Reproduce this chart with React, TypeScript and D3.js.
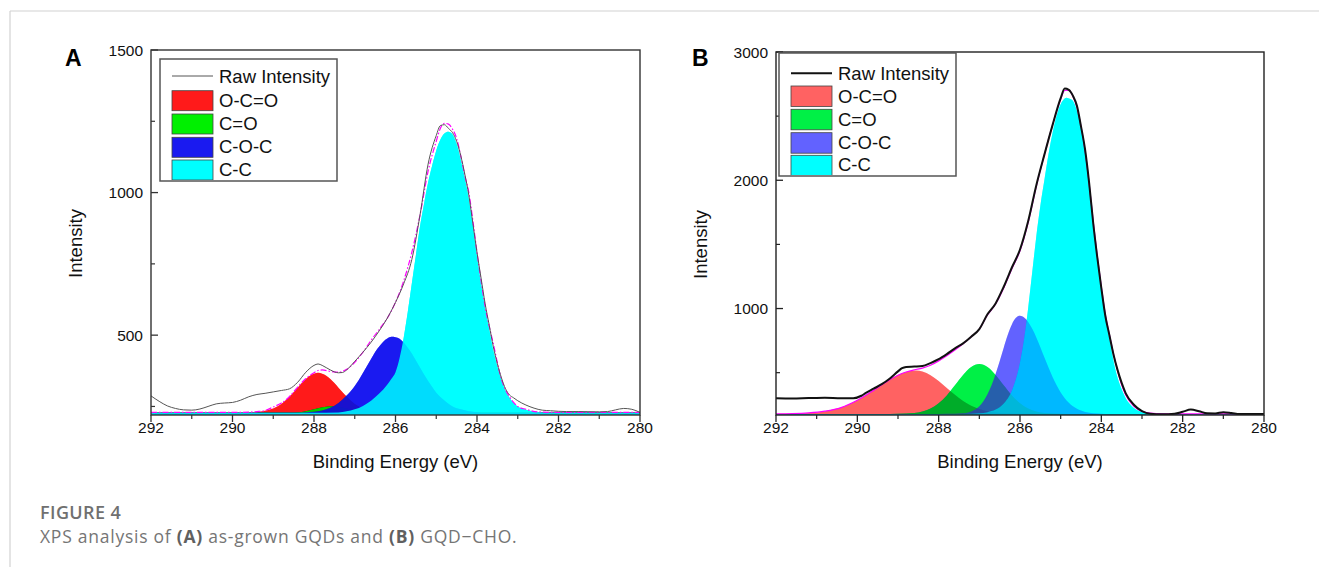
import React from 'react'
import * as d3 from 'd3'

type Pt = [number, number]

// axis ticks
const X_MAJOR = [292, 290, 288, 286, 284, 282, 280]
const X_MINOR = [291, 289, 287, 285, 283, 281]
const A_Y_MAJOR = [500, 1000, 1500]
const A_Y_MINOR = [250, 750, 1250]
const B_Y_MAJOR = [1000, 2000, 3000]
const B_Y_MINOR = [500, 1500, 2500]
const LEGEND = ['Raw Intensity', 'O-C=O', 'C=O', 'C-O-C', 'C-C']

// panel A: as-grown GQDs  [binding energy, intensity]
const rawA: Pt[] = [
  [292, 287], [291.8, 268], [291.6, 252], [291.4, 243], [291.2, 238], [291.0, 237], [290.8, 241],
  [290.6, 250], [290.4, 259], [290.2, 262], [290.0, 264], [289.8, 272], [289.6, 284], [289.4, 292],
  [289.2, 296], [289.0, 301], [288.8, 306], [288.6, 312], [288.4, 335], [288.2, 370], [288.0, 394],
  [287.9, 399], [287.8, 394], [287.6, 378], [287.4, 368], [287.3, 369], [287.2, 378], [287.0, 408],
  [286.8, 440], [286.6, 475], [286.4, 515], [286.2, 560], [286.0, 615], [285.8, 680], [285.6, 765],
  [285.4, 920], [285.2, 1100], [285.0, 1200], [284.9, 1235], [284.8, 1238], [284.7, 1225],
  [284.6, 1210], [284.5, 1180], [284.4, 1130], [284.3, 1065], [284.2, 990], [284.1, 890],
  [284.0, 790], [283.9, 700], [283.8, 610], [283.7, 535], [283.6, 460], [283.5, 400], [283.4, 350],
  [283.3, 312], [283.2, 290], [283.1, 280], [283.0, 270], [282.8, 255], [282.6, 244], [282.4, 237],
  [282.2, 235], [282.0, 233], [281.8, 232], [281.5, 232], [281.0, 231], [280.8, 232], [280.6, 238],
  [280.4, 243], [280.2, 240], [280.0, 229],
]
const fitA: Pt[] = [
  [292, 229], [291, 229], [290, 229], [289.6, 230], [289.4, 232], [289.2, 236], [289.0, 248],
  [288.8, 262], [288.6, 285], [288.4, 318], [288.2, 348], [288.0, 368], [287.9, 376], [287.8, 378],
  [287.6, 373], [287.4, 370], [287.2, 380], [287.0, 405], [286.8, 440], [286.6, 482], [286.4, 520],
  [286.2, 560], [286.0, 615], [285.8, 690], [285.6, 790], [285.4, 920], [285.2, 1075], [285.0, 1180],
  [284.9, 1225], [284.8, 1243], [284.7, 1240], [284.6, 1222], [284.5, 1190], [284.4, 1130],
  [284.3, 1060], [284.2, 1000], [284.1, 900], [284.0, 790], [283.9, 690], [283.8, 600], [283.6, 470],
  [283.4, 345], [283.3, 308], [283.2, 283], [283.0, 250], [282.8, 240], [282.5, 231], [282.0, 229],
  [280, 229],
]
const ocoA: Pt[] = [
  [292, 228], [289.8, 228], [289.5, 229], [289.3, 232], [289.1, 238], [288.9, 250], [288.8, 259],
  [288.7, 271], [288.6, 285], [288.5, 300], [288.4, 316], [288.3, 332], [288.2, 346], [288.1, 358],
  [288.0, 365], [287.9, 368], [287.8, 365], [287.7, 358], [287.6, 346], [287.5, 332], [287.4, 316],
  [287.3, 300], [287.2, 285], [287.1, 271], [287.0, 259], [286.9, 250], [286.7, 238], [286.5, 232],
  [286.3, 229], [286.0, 228], [280, 228],
]
const coA: Pt[] = [
  [292, 228], [288.6, 228], [288.4, 229], [288.2, 233], [288.0, 240], [287.8, 247], [287.6, 251],
  [287.4, 249], [287.2, 243], [287.0, 236], [286.8, 231], [286.6, 229], [286.4, 228], [280, 228],
]
const cocA: Pt[] = [
  [292, 228], [288.4, 228], [288.2, 229], [288.0, 231], [287.8, 236], [287.6, 245], [287.4, 262],
  [287.2, 288], [287.0, 322], [286.9, 343], [286.8, 367], [286.7, 392], [286.6, 416], [286.5, 441],
  [286.4, 460], [286.3, 477], [286.2, 488], [286.1, 494], [286.0, 493], [285.9, 487], [285.8, 474],
  [285.7, 456], [285.6, 436], [285.5, 411], [285.4, 387], [285.3, 362], [285.2, 339], [285.1, 318],
  [285.0, 298], [284.8, 271], [284.6, 250], [284.4, 240], [284.2, 233], [284.0, 230], [283.8, 228],
  [280, 228],
]
const ccA: Pt[] = [
  [292, 228], [288, 228], [287.4, 229], [287.2, 233], [287.0, 240], [286.8, 252], [286.6, 270],
  [286.4, 295], [286.2, 327], [286.1, 347], [286.0, 370], [285.9, 420], [285.8, 490], [285.7, 580],
  [285.6, 680], [285.5, 780], [285.4, 880], [285.3, 960], [285.2, 1035], [285.1, 1095], [285.0, 1148],
  [284.9, 1185], [284.8, 1207], [284.7, 1213], [284.6, 1204], [284.5, 1170], [284.4, 1115],
  [284.3, 1050], [284.2, 975], [284.1, 880], [284.0, 775], [283.9, 680], [283.8, 595], [283.7, 520],
  [283.6, 445], [283.5, 390], [283.4, 343], [283.3, 305], [283.2, 280], [283.1, 262], [283.0, 250],
  [282.8, 238], [282.6, 232], [282.4, 229], [282.2, 228], [280, 228],
]

// panel B: GQD-CHO
const rawB: Pt[] = [
  [292, 300], [291.6, 298], [291.2, 302], [290.8, 305], [290.4, 300], [290.1, 300], [289.9, 320],
  [289.8, 340], [289.6, 375], [289.4, 410], [289.2, 455], [289.0, 510], [288.9, 535], [288.8, 545],
  [288.6, 548], [288.4, 552], [288.2, 575], [288.0, 605], [287.8, 645], [287.6, 690], [287.4, 728],
  [287.2, 780], [287.0, 840], [286.8, 955], [286.6, 1040], [286.4, 1170], [286.2, 1320], [286.0, 1460],
  [285.8, 1680], [285.6, 1960], [285.4, 2200], [285.2, 2430], [285.0, 2640], [284.9, 2715],
  [284.8, 2705], [284.7, 2660], [284.6, 2580], [284.5, 2420], [284.4, 2240], [284.3, 1980],
  [284.2, 1667], [284.1, 1400], [284.0, 1160], [283.9, 940], [283.8, 790], [283.7, 640], [283.6, 520],
  [283.5, 420], [283.4, 339], [283.2, 250], [283.0, 200], [282.8, 180], [282.5, 176], [282.2, 180],
  [282.0, 195], [281.8, 212], [281.6, 200], [281.4, 183], [281.2, 182], [281.0, 192], [280.8, 186],
  [280.6, 178], [280, 178],
]
const fitB: Pt[] = [
  [292, 178], [291.6, 180], [291.2, 186], [290.8, 200], [290.4, 228], [290.0, 285], [289.6, 362],
  [289.2, 445], [289.0, 480], [288.8, 505], [288.6, 522], [288.4, 535], [288.2, 558], [288.0, 592],
  [287.8, 632], [287.6, 676], [287.4, 725], [287.2, 780], [287.0, 840], [286.8, 950], [286.6, 1035],
  [286.4, 1160], [286.2, 1310], [286.0, 1450], [285.8, 1670], [285.6, 1950], [285.4, 2200],
  [285.2, 2430], [285.0, 2630], [284.9, 2700], [284.8, 2702], [284.7, 2655], [284.6, 2570],
  [284.5, 2420], [284.4, 2230], [284.3, 1975], [284.2, 1680], [284.1, 1410], [284.0, 1170],
  [283.9, 950], [283.8, 795], [283.7, 645], [283.6, 515], [283.5, 405], [283.4, 325], [283.2, 238],
  [283.0, 198], [282.8, 184], [282.5, 179], [280, 178],
]
const ocoB: Pt[] = [
  [292, 178], [291.8, 179], [291.5, 181], [291.2, 185], [290.9, 194], [290.7, 205], [290.5, 220],
  [290.3, 241], [290.1, 269], [289.9, 303], [289.7, 343], [289.5, 386], [289.3, 428], [289.1, 466],
  [288.9, 496], [288.7, 513], [288.56, 517], [288.4, 509], [288.2, 480], [288.0, 435], [287.8, 381],
  [287.6, 328], [287.4, 280], [287.2, 243], [287.0, 217], [286.8, 200], [286.6, 189], [286.4, 183],
  [286.0, 179], [285.6, 178], [280, 178],
]
const coB: Pt[] = [
  [292, 178], [289.2, 178], [288.8, 181], [288.6, 185], [288.4, 197], [288.2, 220], [288.0, 262],
  [287.8, 323], [287.6, 402], [287.4, 482], [287.2, 544], [287.0, 567], [286.8, 544], [286.6, 482],
  [286.4, 402], [286.2, 323], [286.0, 262], [285.8, 220], [285.6, 197], [285.4, 185], [285.2, 181],
  [284.8, 178], [280, 178],
]
const cocB: Pt[] = [
  [292, 178], [288, 178], [287.6, 179], [287.4, 183], [287.2, 198], [287.0, 239], [286.9, 277],
  [286.8, 331], [286.7, 402], [286.6, 490], [286.5, 590], [286.4, 695], [286.3, 795], [286.2, 876],
  [286.1, 928], [286.0, 944], [285.9, 930], [285.8, 896], [285.7, 842], [285.6, 775], [285.5, 699],
  [285.4, 618], [285.3, 540], [285.2, 467], [285.0, 346], [284.8, 265], [284.6, 218], [284.4, 194],
  [284.2, 184], [284.0, 180], [283.8, 178], [280, 178],
]
const ccB: Pt[] = [
  [292, 178], [287.4, 178], [287.0, 183], [286.8, 192], [286.6, 212], [286.4, 260], [286.2, 360],
  [286.1, 450], [286.0, 580], [285.9, 760], [285.8, 1000], [285.7, 1280], [285.6, 1560], [285.5, 1800],
  [285.4, 2002], [285.3, 2200], [285.2, 2369], [285.1, 2503], [285.0, 2593], [284.9, 2638],
  [284.86, 2643], [284.8, 2638], [284.7, 2620], [284.6, 2540], [284.5, 2420], [284.4, 2220],
  [284.3, 1950], [284.2, 1650], [284.1, 1390], [284.0, 1150], [283.9, 930], [283.8, 760], [283.7, 590],
  [283.6, 460], [283.5, 370], [283.4, 300], [283.3, 255], [283.2, 225], [283.1, 205], [283.0, 193],
  [282.8, 183], [282.6, 179], [282.4, 178], [280, 178],
]

const FONT = '"Liberation Sans", Arial, sans-serif'

type PanelCfg = {
  id: string
  letter: string
  letterX: number
  box: { l: number; r: number; t: number; b: number }
  yDomain: [number, number]
  yMajor: number[]
  yMinor: number[]
  raw: Pt[]
  fit: Pt[]
  comps: Pt[][]
  fillBase: string[]
  swatch: string[]
  normalAlpha: number
  rawStyle: { stroke: string; width: number }
  fitDash: string
  frame: string
  legend: { l: number; t: number; r: number; b: number; lineY: number; rows: number[]; sw: number[]; swH: number }
  yTitleX: number
}

function Panel({ cfg }: { cfg: PanelCfg }) {
  const { l, r, t, b } = cfg.box
  const x = d3.scaleLinear().domain([292, 280]).range([l, r])
  const y = d3.scaleLinear().domain(cfg.yDomain).range([b, t])
  const ord = (s: Pt[]) => [...s].sort((p, q) => q[0] - p[0])
  const area = d3.area<Pt>().x((d) => x(d[0])).y0(b).y1((d) => y(d[1])).curve(d3.curveMonotoneX)
  const line = d3.line<Pt>().x((d) => x(d[0])).y((d) => y(d[1])).curve(d3.curveMonotoneX)
  const lg = cfg.legend
  const clip = `clip-${cfg.id}`

  return (
    <g fontFamily={FONT}>
      <defs>
        <clipPath id={clip}>
          <rect x={l} y={t} width={r - l} height={b - t} />
        </clipPath>
      </defs>

      <g clipPath={`url(#${clip})`}>
        {cfg.comps.map((c, i) => {
          const d = area(ord(c)) || ''
          return (
            <g key={i}>
              <path d={d} fill={cfg.fillBase[i]} fillOpacity={cfg.normalAlpha} />
              <path d={d} fill={cfg.fillBase[i]} style={{ mixBlendMode: 'multiply' }} />
            </g>
          )
        })}
        <path d={line(ord(cfg.fit)) || ''} fill="none" stroke="#ff00ff" strokeWidth={1.2}
          strokeDasharray={cfg.fitDash} />
        <path d={line(ord(cfg.raw)) || ''} fill="none" stroke={cfg.rawStyle.stroke}
          strokeWidth={cfg.rawStyle.width} strokeLinejoin="round" />
      </g>

      {/* frame */}
      <rect x={l} y={t} width={r - l} height={b - t} fill="none" stroke={cfg.frame} strokeWidth={1.4} />

      {/* bottom axis, ticks outward */}
      {X_MAJOR.map((v) => (
        <g key={'xM' + v}>
          <line x1={x(v)} x2={x(v)} y1={b} y2={b + 7} stroke={cfg.frame} strokeWidth={1.3} />
          <text x={x(v)} y={b + 17.5} fontSize={15.5} textAnchor="middle" fill="#111">{v}</text>
        </g>
      ))}
      {X_MINOR.map((v) => (
        <line key={'xm' + v} x1={x(v)} x2={x(v)} y1={b} y2={b + 4} stroke={cfg.frame} strokeWidth={1.2} />
      ))}

      {/* left axis, ticks inward */}
      {cfg.yMajor.map((v) => (
        <g key={'yM' + v}>
          <line x1={l} x2={l + 7} y1={y(v)} y2={y(v)} stroke={cfg.frame} strokeWidth={1.3} />
          <text x={l - 8} y={y(v) + 5.5} fontSize={15.5} textAnchor="end" fill="#111">{v}</text>
        </g>
      ))}
      {cfg.yMinor.map((v) => (
        <line key={'ym' + v} x1={l} x2={l + 4} y1={y(v)} y2={y(v)} stroke={cfg.frame} strokeWidth={1.2} />
      ))}

      <text x={(l + r) / 2} y={468} fontSize={18.5} textAnchor="middle" fill="#111">Binding Energy (eV)</text>
      <text transform={`translate(${cfg.yTitleX},${(t + b) / 2 + 11}) rotate(-90)`} fontSize={18.5}
        textAnchor="middle" fill="#111">Intensity</text>
      <text x={cfg.letterX} y={66} fontSize={23} fontWeight={700} fill="#000">{cfg.letter}</text>

      {/* legend */}
      <rect x={lg.l} y={lg.t} width={lg.r - lg.l} height={lg.b - lg.t} fill="#fff" stroke="#555" strokeWidth={1.5} />
      <svg x={lg.l} y={lg.t} width={lg.r - lg.l} height={lg.b - lg.t - 1} overflow="hidden">
        <g transform={`translate(${-lg.l},${-lg.t})`}>
          <line x1={lg.l + 12} x2={lg.l + 53} y1={lg.lineY} y2={lg.lineY} stroke={cfg.rawStyle.stroke}
            strokeWidth={cfg.rawStyle.width} />
          {cfg.swatch.map((c, i) => (
            <rect key={i} x={lg.l + 12} y={lg.sw[i]} width={41} height={lg.swH} fill={c} stroke="#444" strokeWidth={0.8} />
          ))}
          {LEGEND.map((s, i) => (
            <text key={s} x={lg.l + 59} y={lg.rows[i]} fontSize={18.5} fill="#111">{s}</text>
          ))}
        </g>
      </svg>
    </g>
  )
}

const panelA: PanelCfg = {
  id: 'a', letter: 'A', letterX: 65,
  box: { l: 151, r: 640, t: 50, b: 415 },
  yDomain: [220, 1500], yMajor: A_Y_MAJOR, yMinor: A_Y_MINOR,
  raw: rawA, fit: fitA, comps: [ocoA, coA, cocA, ccA],
  fillBase: ['#ff4444', '#00f700', '#4444f7', '#00ffff'],
  swatch: ['#ff1a1a', '#00f000', '#1a1af0', '#00ffff'],
  normalAlpha: 0.85,
  rawStyle: { stroke: '#555', width: 1 },
  fitDash: '6 2 1.5 2',
  frame: '#333',
  legend: { l: 160, t: 59, r: 337, b: 181, lineY: 76, rows: [83, 107, 130, 153, 175.5], sw: [90.7, 114, 137.3, 160], swH: 20 },
  yTitleX: 82,
}

const panelB: PanelCfg = {
  id: 'b', letter: 'B', letterX: 692,
  box: { l: 776, r: 1264, t: 52, b: 415 },
  yDomain: [170, 3000], yMajor: B_Y_MAJOR, yMinor: B_Y_MINOR,
  raw: rawB, fit: fitB, comps: [ocoB, coB, cocB, ccB],
  fillBase: ['#ff8585', '#00f567', '#8585ff', '#00ffff'],
  swatch: ['#ff6262', '#00f046', '#6262ff', '#00ffff'],
  normalAlpha: 0.55,
  rawStyle: { stroke: '#111', width: 2 },
  fitDash: 'none',
  frame: '#222',
  legend: { l: 779, t: 53, r: 956, b: 176, lineY: 73.3, rows: [79.5, 103, 125.5, 148.5, 171], sw: [86, 109.3, 132.7, 155.3], swH: 20.5 },
  yTitleX: 707,
}

export default function App() {
  return (
    <svg width={1319} height={567} style={{ position: 'absolute', left: 0, top: 0, background: '#fff' }}>
      <rect x={0} y={0} width={1319} height={567} fill="#fff" />
      <line x1={10} x2={1319} y1={11} y2={11} stroke="#d2d2d2" strokeWidth={1.2} />
      <line x1={10} x2={10} y1={11} y2={567} stroke="#d2d2d2" strokeWidth={1.2} />
      <Panel cfg={panelA} />
      <Panel cfg={panelB} />
      <text x={40} y={518.5} fontFamily='"Open Sans", sans-serif' fontSize={18} fontWeight={600}
        letterSpacing={0.4} fill="#707070">
        FIGURE 4
      </text>
      <text x={40} y={543} fontFamily='"Open Sans", sans-serif' fontSize={17.5} letterSpacing={0.75} fill="#757575">
        XPS analysis of <tspan fontWeight={700} fill="#606060">(A)</tspan> as-grown GQDs and{' '}
        <tspan fontWeight={700} fill="#606060">(B)</tspan> GQD−CHO.
      </text>
    </svg>
  )
}
